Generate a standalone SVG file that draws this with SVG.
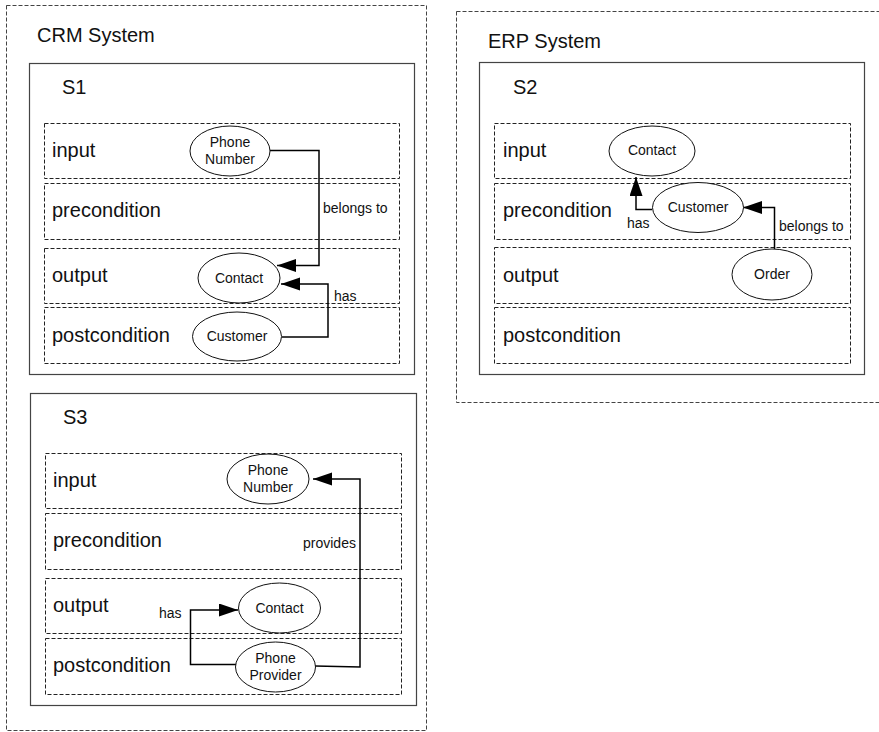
<svg xmlns="http://www.w3.org/2000/svg" width="879" height="732" viewBox="0 0 879 732">
<defs>
<style>
.sys{fill:none;stroke:#444;stroke-width:1;stroke-dasharray:4 2}
.svc{fill:#fff;stroke:#444;stroke-width:1.2}
.lane{fill:none;stroke:#222;stroke-width:1;stroke-dasharray:4 2}
.ell{fill:#fff;stroke:#111;stroke-width:1}
.big{font-family:"Liberation Sans",Arial,sans-serif;font-size:20px;fill:#111}
.sm{font-family:"Liberation Sans",Arial,sans-serif;font-size:14px;fill:#111}
.ctr{text-anchor:middle}
.conn{fill:none;stroke:#000;stroke-width:1.5;marker-end:url(#arr)}
</style>
<marker id="arr" markerUnits="userSpaceOnUse" markerWidth="20" markerHeight="14" refX="19" refY="6.5" orient="auto">
<path d="M0,0 L19,6.5 L0,13 z" fill="#000"/>
</marker>
</defs>
<rect width="879" height="732" fill="#fff"/>

<g id="crm-system">
<rect class="sys" x="6.5" y="5.5" width="420" height="725"/>
<text class="big" x="37" y="42">CRM System</text>
</g>
<g id="erp-system">
<rect class="sys" x="456.5" y="11.5" width="424" height="391"/>
<text class="big" x="488" y="48">ERP System</text>
</g>

<g id="s1">
<rect class="svc" x="29.5" y="63.5" width="385" height="311"/>
<text class="big" x="62" y="94">S1</text>
<rect class="lane" x="44.5" y="123.5" width="355" height="55"/>
<rect class="lane" x="44.5" y="183.5" width="355" height="56"/>
<rect class="lane" x="44.5" y="248.5" width="355" height="55"/>
<rect class="lane" x="44.5" y="307.5" width="355" height="56"/>
<text class="big" x="52" y="157">input</text>
<text class="big" x="52" y="217">precondition</text>
<text class="big" x="52" y="282">output</text>
<text class="big" x="52" y="342">postcondition</text>
</g>

<g id="s2">
<rect class="svc" x="479.5" y="62.5" width="385" height="312"/>
<text class="big" x="513" y="94">S2</text>
<rect class="lane" x="494.5" y="123.5" width="356" height="55"/>
<rect class="lane" x="494.5" y="183.5" width="356" height="56"/>
<rect class="lane" x="494.5" y="247.5" width="356" height="56"/>
<rect class="lane" x="494.5" y="307.5" width="356" height="56"/>
<text class="big" x="503" y="157">input</text>
<text class="big" x="503" y="217">precondition</text>
<text class="big" x="503" y="282">output</text>
<text class="big" x="503" y="342">postcondition</text>
</g>

<g id="s3">
<rect class="svc" x="30.5" y="393.5" width="386" height="312"/>
<text class="big" x="63" y="424">S3</text>
<rect class="lane" x="45.5" y="453.5" width="356" height="55"/>
<rect class="lane" x="45.5" y="513.5" width="356" height="56"/>
<rect class="lane" x="45.5" y="578.5" width="356" height="55"/>
<rect class="lane" x="45.5" y="638.5" width="356" height="56"/>
<text class="big" x="53" y="487">input</text>
<text class="big" x="53" y="547">precondition</text>
<text class="big" x="53" y="612">output</text>
<text class="big" x="53" y="672">postcondition</text>
</g>

<g id="connectors">
<path class="conn" d="M270,150.5 H319 V265.5 H277"/>
<path class="conn" d="M282,337 H328 V284 H281"/>
<path class="conn" d="M652,209.5 H636 V177"/>
<path class="conn" d="M774.5,249 V207.5 H743"/>
<path class="conn" d="M315,666 L360,667 V479 H313"/>
<path class="conn" d="M236,664.5 H190.5 V610 H238"/>
<text class="sm" x="323" y="213">belongs to</text>
<text class="sm" x="334" y="301">has</text>
<text class="sm" x="627" y="228">has</text>
<text class="sm" x="779" y="231">belongs to</text>
<text class="sm" x="303" y="548">provides</text>
<text class="sm" x="159" y="618">has</text>
</g>

<g id="s1-phone-number">
<ellipse class="ell" cx="230" cy="151" rx="40" ry="25"/>
<text class="sm ctr" x="230" y="147">Phone</text>
<text class="sm ctr" x="230" y="164">Number</text>
</g>
<g id="s1-contact">
<ellipse class="ell" cx="239" cy="278" rx="41" ry="25"/>
<text class="sm ctr" x="239" y="283">Contact</text>
</g>
<g id="s1-customer">
<ellipse class="ell" cx="237" cy="336.5" rx="44.5" ry="24.5"/>
<text class="sm ctr" x="237" y="341">Customer</text>
</g>

<g id="s2-contact">
<ellipse class="ell" cx="652" cy="151" rx="43" ry="25"/>
<text class="sm ctr" x="652" y="155">Contact</text>
</g>
<g id="s2-customer">
<ellipse class="ell" cx="698" cy="207.5" rx="45.5" ry="25"/>
<text class="sm ctr" x="698" y="212">Customer</text>
</g>
<g id="s2-order">
<ellipse class="ell" cx="772" cy="274.5" rx="40" ry="25.5"/>
<text class="sm ctr" x="772" y="279">Order</text>
</g>

<g id="s3-phone-number">
<ellipse class="ell" cx="268" cy="479" rx="41" ry="25"/>
<text class="sm ctr" x="268" y="475">Phone</text>
<text class="sm ctr" x="268" y="492">Number</text>
</g>
<g id="s3-contact">
<ellipse class="ell" cx="279.5" cy="608" rx="41" ry="25"/>
<text class="sm ctr" x="279.5" y="613">Contact</text>
</g>
<g id="s3-phone-provider">
<ellipse class="ell" cx="275.5" cy="667" rx="40" ry="25"/>
<text class="sm ctr" x="275.5" y="663">Phone</text>
<text class="sm ctr" x="275.5" y="680">Provider</text>
</g>
</svg>
